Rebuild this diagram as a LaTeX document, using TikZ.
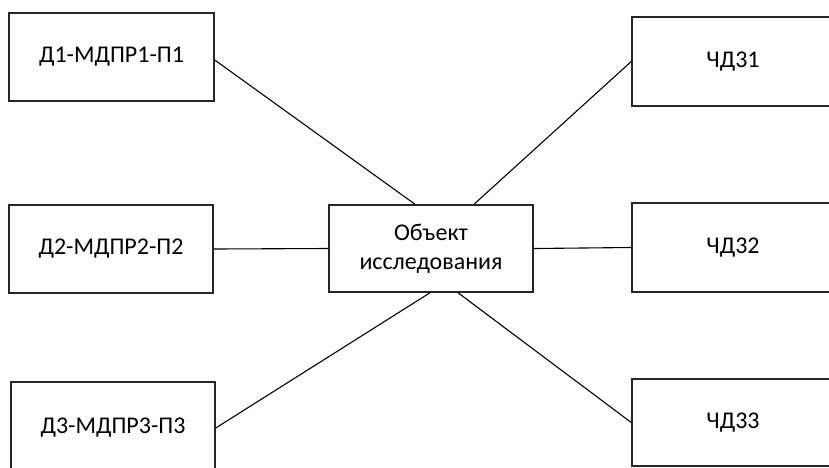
\documentclass[tikz,border=0pt]{standalone}
\usepackage{fontspec}
\setmainfont{Carlito}
\begin{document}
\begin{tikzpicture}[x=1pt,y=-1pt,
  box/.style={draw=black!85,line width=1.5pt,rectangle,inner sep=0pt,align=center,font=\fontsize{24}{29}\selectfont},
  link/.style={draw=black,line width=1.1pt}]
\useasboundingbox (0,0) rectangle (829,467);
\clip (0,0) rectangle (829,467);
\node[box,minimum width=205pt,minimum height=88pt] (b1) at (111.5,57) {Д1-МДПР1-П1};
\node[box,minimum width=204pt,minimum height=88pt] (b2) at (111,249) {Д2-МДПР2-П2};
\node[box,minimum width=204pt,minimum height=92pt] (b3) at (113,428) {Д3-МДПР3-П3};
\node[box,minimum width=202pt,minimum height=89pt] (r1) at (733,61.5) {ЧД31};
\node[box,minimum width=202pt,minimum height=89pt] (r2) at (733,247.5) {ЧД32};
\node[box,minimum width=202pt,minimum height=87pt] (r3) at (733,422.5) {ЧД33};
\node[box,minimum width=204pt,minimum height=87pt] (c) at (431,248.5) {Объект\\исследования};
\draw[link] ([yshift=-3pt]b1.east) -- ([xshift=-16pt]c.north);
\draw[link] ([xshift=43pt]c.north) -- (r1.west);
\draw[link] (b2.east) -- (c.west);
\draw[link] (c.east) -- (r2.west);
\draw[link] ([xshift=-1pt]c.south) -- (b3.east);
\draw[link] ([xshift=27pt]c.south) -- (r3.west);
\end{tikzpicture}
\end{document}
